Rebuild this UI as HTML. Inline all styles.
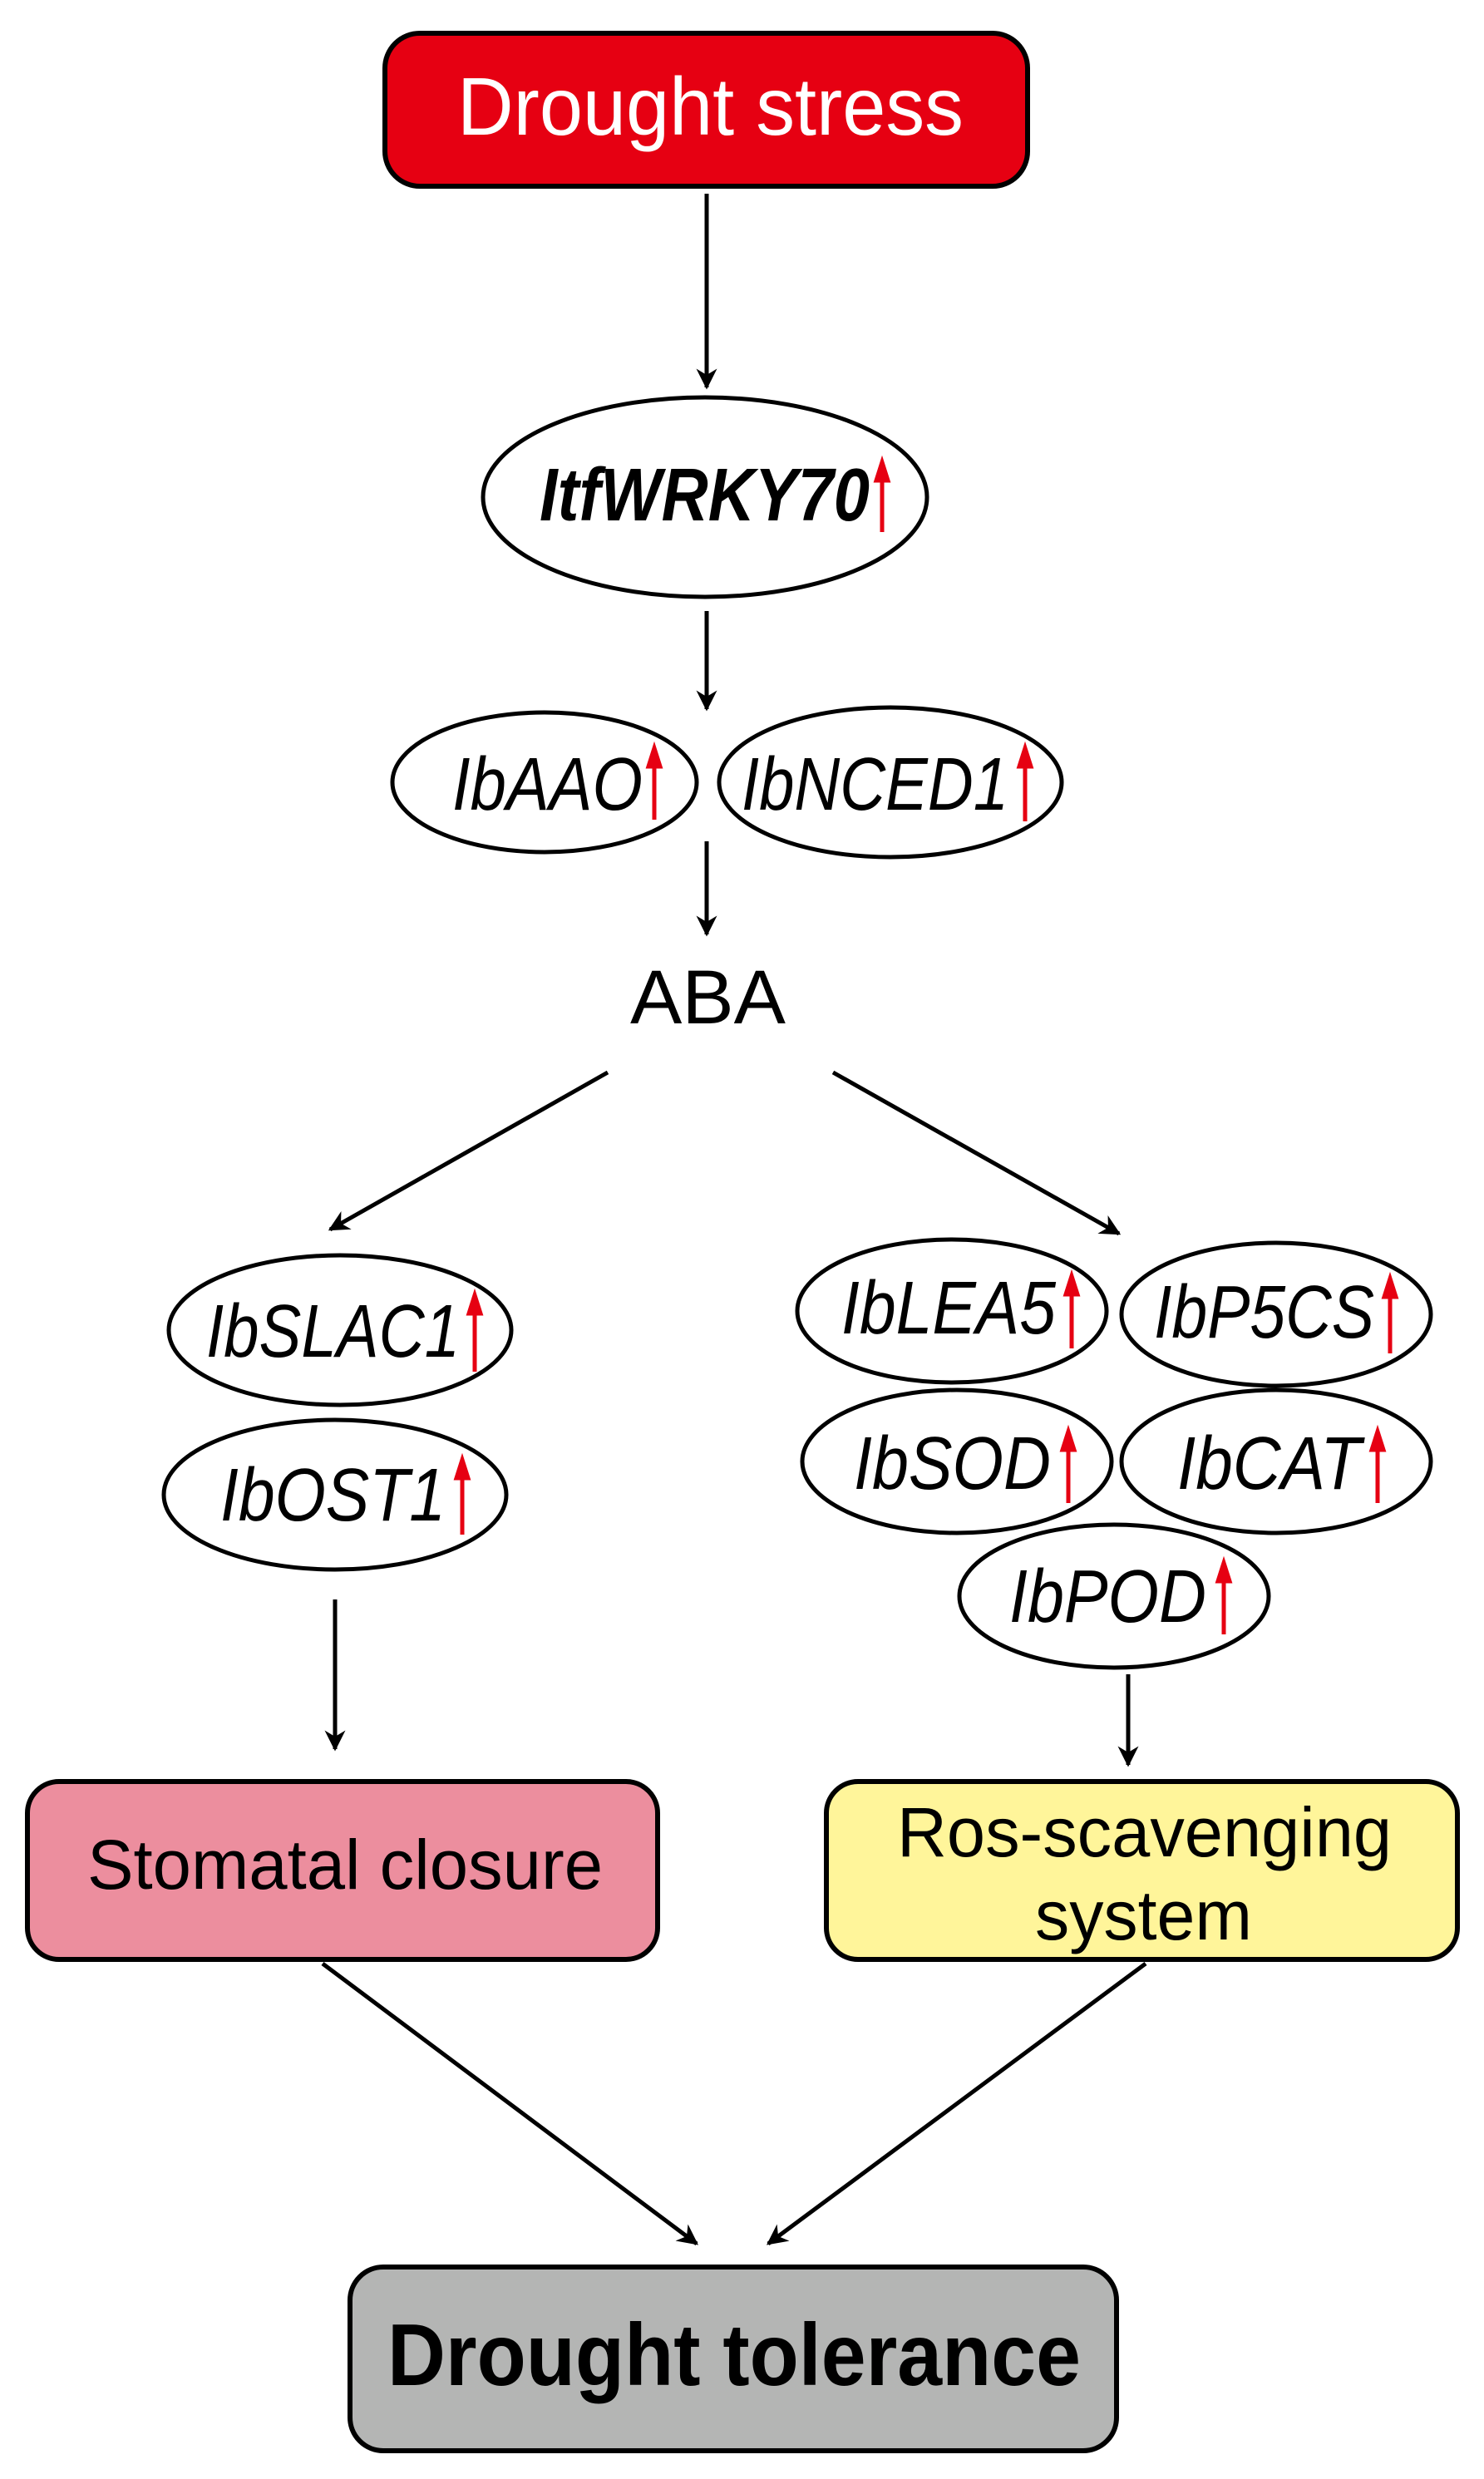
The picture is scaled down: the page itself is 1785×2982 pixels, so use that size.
<!DOCTYPE html>
<html><head><meta charset="utf-8"><style>
html,body{margin:0;padding:0;background:#fff}
svg{display:block}
text{font-family:"Liberation Sans",Arial,sans-serif}
.g{font-style:italic;font-size:90px}
</style></head><body>
<svg width="1785" height="2982" viewBox="0 0 1785 2982" xmlns="http://www.w3.org/2000/svg">
<defs>
<marker id="a" viewBox="0 0 10 10" refX="9" refY="5" markerWidth="5" markerHeight="5" markerUnits="strokeWidth" orient="auto">
<path d="M0,0 L10,5 L0,10 L3,5 z" fill="#000"/></marker>
</defs>
<g stroke="#000" stroke-width="5" fill="none">
<line x1="850" y1="233" x2="850" y2="466" marker-end="url(#a)"/>
<line x1="850" y1="735" x2="850" y2="853" marker-end="url(#a)"/>
<line x1="850" y1="1012" x2="850" y2="1124" marker-end="url(#a)"/>
<line x1="731" y1="1290" x2="397" y2="1479" marker-end="url(#a)"/>
<line x1="1002" y1="1290" x2="1346" y2="1484" marker-end="url(#a)"/>
<line x1="403" y1="1924" x2="403" y2="2104" marker-end="url(#a)"/>
<line x1="1357" y1="2014" x2="1357" y2="2123" marker-end="url(#a)"/>
<line x1="388" y1="2362" x2="838" y2="2699" marker-end="url(#a)"/>
<line x1="1378" y1="2362" x2="924" y2="2699" marker-end="url(#a)"/>
</g>
<g stroke="#000" stroke-width="6">
<rect x="463" y="40" width="773" height="184" rx="42" fill="#e60012"/>
<rect x="33" y="2143" width="758" height="214" rx="38" fill="#ec8e9e"/>
<rect x="994" y="2143" width="759" height="214" rx="38" fill="#fff59a"/>
<rect x="421" y="2727" width="922" height="221" rx="40" fill="#b4b5b4"/>
</g>
<g stroke="#000" stroke-width="5" fill="#fff">
<ellipse cx="848" cy="598" rx="267" ry="120"/>
<ellipse cx="655" cy="941" rx="183" ry="84"/>
<ellipse cx="1071" cy="941" rx="206" ry="90"/>
<ellipse cx="409" cy="1600" rx="206" ry="90"/>
<ellipse cx="403" cy="1798" rx="206" ry="90"/>
<ellipse cx="1145" cy="1577" rx="186" ry="86"/>
<ellipse cx="1535" cy="1581" rx="186" ry="86"/>
<ellipse cx="1151" cy="1758" rx="186" ry="86"/>
<ellipse cx="1535" cy="1758" rx="186" ry="86"/>
<ellipse cx="1340" cy="1920" rx="186" ry="86"/>
</g>
<text x="550" y="162" font-size="98" fill="#fff" textLength="609" lengthAdjust="spacingAndGlyphs">Drought stress</text>
<text x="649" y="626" font-size="90" font-style="italic" font-weight="bold" textLength="397" lengthAdjust="spacingAndGlyphs">ItfWRKY70</text>
<text x="544" y="974" class="g" textLength="229" lengthAdjust="spacingAndGlyphs">IbAAO</text>
<text x="892" y="974" class="g" textLength="321" lengthAdjust="spacingAndGlyphs">IbNCED1</text>
<text x="758" y="1231" font-size="92" textLength="187" lengthAdjust="spacingAndGlyphs">ABA</text>
<text x="248" y="1632" class="g" textLength="305" lengthAdjust="spacingAndGlyphs">IbSLAC1</text>
<text x="265" y="1829" class="g" textLength="271" lengthAdjust="spacingAndGlyphs">IbOST1</text>
<text x="1012" y="1604" class="g" textLength="258" lengthAdjust="spacingAndGlyphs">IbLEA5</text>
<text x="1388" y="1609" class="g" textLength="265" lengthAdjust="spacingAndGlyphs">IbP5CS</text>
<text x="1027" y="1791" class="g" textLength="237" lengthAdjust="spacingAndGlyphs">IbSOD</text>
<text x="1416" y="1791" class="g" textLength="221" lengthAdjust="spacingAndGlyphs">IbCAT</text>
<text x="1214" y="1951" class="g" textLength="237" lengthAdjust="spacingAndGlyphs">IbPOD</text>
<text x="105" y="2272" font-size="84" textLength="620" lengthAdjust="spacingAndGlyphs">Stomatal closure</text>
<text x="1079" y="2233" font-size="84" textLength="595" lengthAdjust="spacingAndGlyphs">Ros-scavenging</text>
<text x="1245" y="2333" font-size="84" textLength="261" lengthAdjust="spacingAndGlyphs">system</text>
<text x="466" y="2869" font-size="106" font-weight="bold" textLength="834" lengthAdjust="spacingAndGlyphs">Drought tolerance</text>
<g stroke="#e60012" stroke-width="5" fill="#e60012">
<line x1="1061" y1="640" x2="1061" y2="565"/><path d="M1054,578 L1061,556 L1068,578z"/>
<line x1="787" y1="986" x2="787" y2="910"/><path d="M780,922 L787,900 L794,922z"/>
<line x1="1233" y1="988" x2="1233" y2="910"/><path d="M1226,922 L1233,900 L1240,922z"/>
<line x1="571" y1="1650" x2="571" y2="1568"/><path d="M564,1580 L571,1558 L578,1580z"/>
<line x1="556" y1="1846" x2="556" y2="1766"/><path d="M549,1778 L556,1756 L563,1778z"/>
<line x1="1289" y1="1622" x2="1289" y2="1545"/><path d="M1282,1557 L1289,1535 L1296,1557z"/>
<line x1="1672" y1="1628" x2="1672" y2="1548"/><path d="M1665,1560 L1672,1538 L1679,1560z"/>
<line x1="1285" y1="1808" x2="1285" y2="1732"/><path d="M1278,1744 L1285,1722 L1292,1744z"/>
<line x1="1657" y1="1808" x2="1657" y2="1732"/><path d="M1650,1744 L1657,1722 L1664,1744z"/>
<line x1="1472" y1="1966" x2="1472" y2="1890"/><path d="M1465,1902 L1472,1880 L1479,1902z"/>
</g>
</svg>
</body></html>
